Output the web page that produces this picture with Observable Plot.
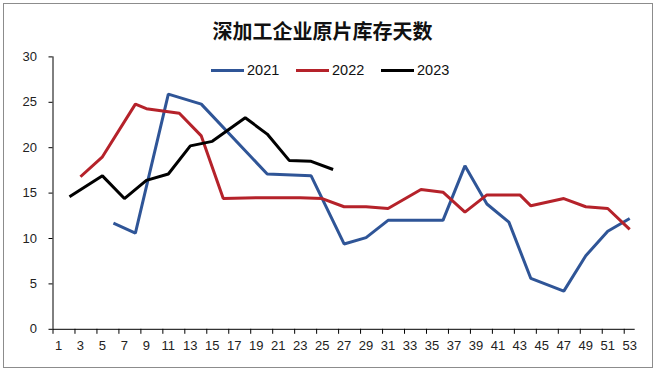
<!DOCTYPE html>
<html>
<head>
<meta charset="utf-8">
<script src="https://cdn.jsdelivr.net/npm/d3@7"></script>
<script src="https://cdn.jsdelivr.net/npm/@observablehq/plot@0.6"></script>
<style>
  html, body { margin: 0; padding: 0; background: #fff; }
  #wrap { position: relative; width: 658px; height: 373px; overflow: hidden; }
  #border { position: absolute; left: 3px; top: 3px; width: 650px; height: 365px; border: 1px solid #8c8c8c; box-sizing: border-box; }
  #title { position: absolute; left: 0; top: 18px; width: 645px; text-align: center; font-family: "Noto Sans CJK SC", sans-serif; font-weight: bold; font-size: 20px; line-height: 26px; color: #111; }
  .leg { position: absolute; top: 61px; height: 18px; font-family: "Liberation Sans", Arial, sans-serif; font-size: 14.5px; line-height: 18px; color: #111; white-space: nowrap; }
  .leg .sw { position: absolute; left: 0; top: 8px; width: 33px; height: 3px; }
  .leg .tx { position: absolute; top: 0; }
  #chart { position: absolute; left: 0; top: 0; }
</style>
</head>
<body>
<div id="wrap">
  <div id="border"></div>
  <div id="chart"></div>
  <div id="title"></div>
  <div id="legend"></div>
</div>
<script>
const title = "深加工企业原片库存天数";
const seriesNames = ["2021", "2022", "2023"];
const seriesColors = ["#2f5597", "#b5222a", "#000000"];

const weeks2021 = [6, 8, 11, 14, 20, 24, 27, 29, 31, 36, 38, 40, 42, 44, 47, 49, 51, 53];
const values2021 = [11.7, 10.6, 25.9, 24.8, 17.1, 16.9, 9.4, 10.1, 12.0, 12.0, 18.0, 13.8, 11.8, 5.6, 4.2, 8.1, 10.8, 12.2];

const weeks2022 = [3, 5, 8, 9, 12, 14, 16, 19, 23, 25, 27, 29, 31, 34, 36, 38, 40, 43, 44, 47, 49, 51, 53];
const values2022 = [16.8, 19.0, 24.8, 24.3, 23.8, 21.3, 14.4, 14.5, 14.5, 14.4, 13.5, 13.5, 13.3, 15.4, 15.1, 12.9, 14.8, 14.8, 13.6, 14.4, 13.5, 13.3, 11.0];

const weeks2023 = [2, 5, 7, 9, 11, 13, 15, 18, 20, 22, 24, 26];
const values2023 = [14.6, 16.9, 14.4, 16.4, 17.1, 20.2, 20.7, 23.3, 21.5, 18.6, 18.5, 17.6];

const xTickLabels = [1, 3, 5, 7, 9, 11, 13, 15, 17, 19, 21, 23, 25, 27, 29, 31, 33, 35, 37, 39, 41, 43, 45, 47, 49, 51, 53];
const yTicks = [0, 5, 10, 15, 20, 25, 30];
const weekCount = 53;

const allWeeks = [weeks2021, weeks2022, weeks2023];
const allValues = [values2021, values2022, values2023];
const data = [];
seriesNames.forEach((s, k) => {
  allWeeks[k].forEach((w, i) => data.push({series: s, week: w, value: allValues[k][i]}));
});

const chart = Plot.plot({
  width: 658,
  height: 373,
  marginLeft: 52.5,
  marginRight: 23.3,
  marginTop: 56.4,
  marginBottom: 44.2,
  style: {fontFamily: "'Liberation Sans', Arial, sans-serif", fontSize: "13px", color: "#222", background: "transparent", overflow: "visible"},
  x: {type: "linear", domain: [0.5, weekCount + 0.5]},
  y: {domain: [0, 30]},
  color: {domain: seriesNames, range: seriesColors},
  marks: [
    Plot.axisY(yTicks, {tickSize: 4, tickPadding: 12, label: null, stroke: "#000", strokeOpacity: 1, fontSize: 13}),
    Plot.axisX(xTickLabels, {tickSize: 0, tickPadding: 11, label: null, fontSize: 13}),
    Plot.axisX(xTickLabels.map(d => d - 0.5), {tickSize: 5, tickFormat: () => "", label: null, stroke: "#000", strokeOpacity: 1}),
    Plot.ruleX([0.5], {stroke: "#000"}),
    Plot.ruleY([0], {stroke: "#000"}),
    Plot.line(data, {x: "week", y: "value", z: "series", stroke: "series", strokeWidth: 3, strokeLinejoin: "miter", strokeLinecap: "butt"})
  ]
});
document.getElementById("chart").appendChild(chart);
document.getElementById("title").textContent = title;

const legendLefts = [210.5, 295.5, 380.5];
const leg = document.getElementById("legend");
seriesNames.forEach((s, k) => {
  const item = document.createElement("div");
  item.className = "leg";
  item.style.left = legendLefts[k] + "px";
  const sw = document.createElement("span");
  sw.className = "sw";
  sw.style.background = seriesColors[k];
  const tx = document.createElement("span");
  tx.className = "tx";
  tx.style.left = "36.5px";
  tx.textContent = s;
  item.appendChild(sw);
  item.appendChild(tx);
  leg.appendChild(item);
});
</script>
</body>
</html>
